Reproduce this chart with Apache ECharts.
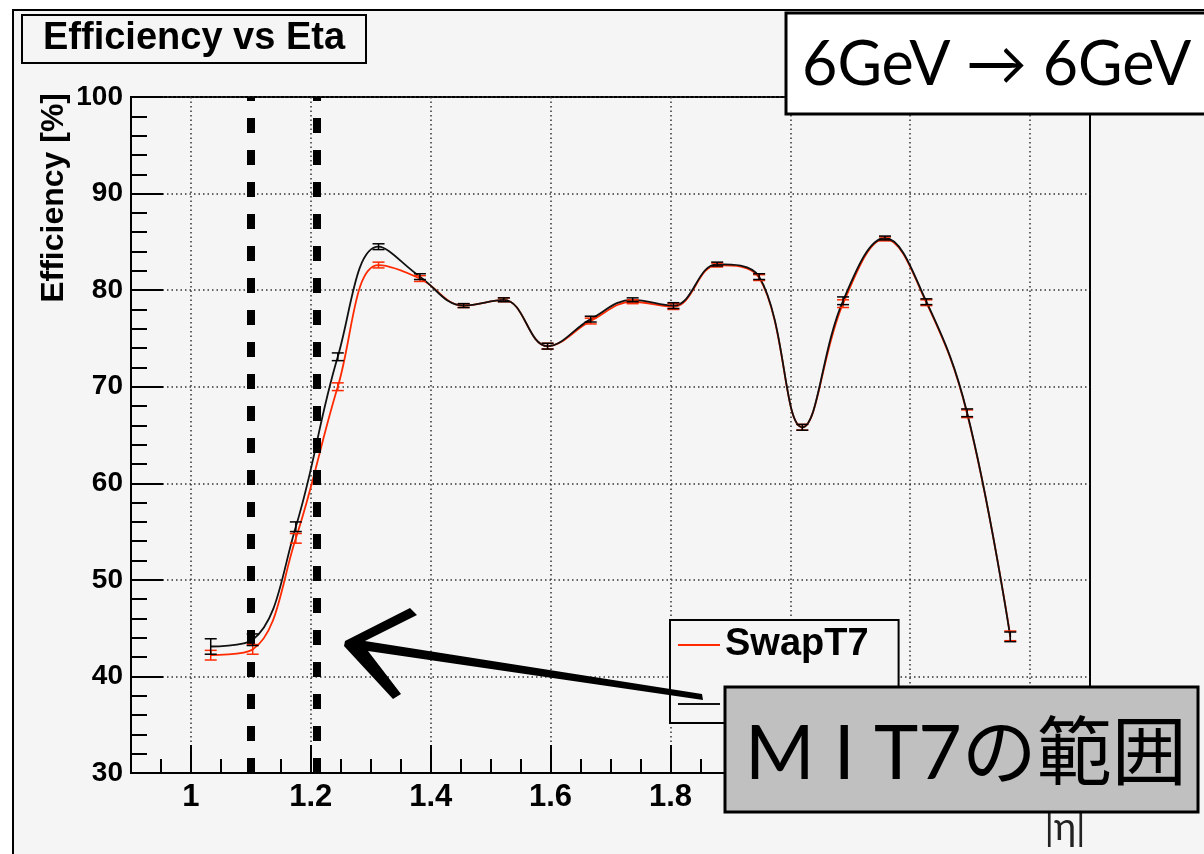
<!DOCTYPE html>
<html>
<head>
<meta charset="utf-8">
<title>Efficiency vs Eta</title>
<script src="https://cdn.jsdelivr.net/npm/echarts@6/dist/echarts.min.js"></script>
<style>
  html, body { margin: 0; padding: 0; background: #fff; }
  #chart { width: 1204px; height: 854px; }
</style>
</head>
<body>
<div id="chart"></div>
<script>
// |eta| bin centres
const etaBins = [1.033, 1.103, 1.175, 1.245, 1.313, 1.382, 1.455, 1.522, 1.595, 1.667,
                 1.737, 1.805, 1.878, 1.948, 2.020, 2.088, 2.158, 2.227, 2.295, 2.367]
// efficiency [%]
const swapT7 = [42.2, 42.8, 54.3, 70.0, 82.6, 81.2, 78.4, 79.0, 74.2, 76.8,
                78.8, 78.3, 82.6, 81.3, 65.8, 78.6, 85.3, 78.7, 67.2, 44.2]
const swapT7Err = [0.5, 0.5, 0.5, 0.4, 0.3, 0.3, 0.2, 0.2, 0.3, 0.3,
                   0.2, 0.3, 0.2, 0.3, 0.3, 0.4, 0.2, 0.3, 0.4, 0.5]
const normal = [43.1, 43.8, 55.5, 73.1, 84.5, 81.4, 78.4, 79.0, 74.2, 77.0,
                79.0, 78.4, 82.7, 81.4, 65.8, 78.9, 85.4, 78.8, 67.3, 44.1]
const normalErr = [0.8, 0.6, 0.5, 0.4, 0.3, 0.3, 0.2, 0.2, 0.3, 0.3,
                   0.2, 0.3, 0.2, 0.3, 0.3, 0.4, 0.2, 0.3, 0.4, 0.5]
// MIT7 range edges
const mitRange = [1.105, 1.21]
const xMajor = [1.0, 1.2, 1.4, 1.6, 1.8, 2.0, 2.2, 2.4]

const font = "'Liberation Sans', Arial, sans-serif"
const red = '#ff2a00'

const pairs = (ys) => etaBins.map((x, i) => [x, ys[i]])
const triples = (ys, es) => etaBins.map((x, i) => [x, ys[i], es[i]])

function errorBars (color) {
  return function (params, api) {
    const x = api.value(0)
    const y = api.value(1)
    const e = api.value(2)
    const hi = api.coord([x, y + e])
    const lo = api.coord([x, y - e])
    const w = 6
    const st = { stroke: color, lineWidth: 1.5 }
    return {
      type: 'group',
      children: [
        { type: 'line', shape: { x1: hi[0], y1: hi[1], x2: lo[0], y2: lo[1] }, style: st },
        { type: 'line', shape: { x1: hi[0] - w, y1: hi[1], x2: hi[0] + w, y2: hi[1] }, style: st },
        { type: 'line', shape: { x1: lo[0] - w, y1: lo[1], x2: lo[0] + w, y2: lo[1] }, style: st }
      ]
    }
  }
}

const dotted = { color: '#333', width: 1.5, type: [1.5, 3] }

const option = {
  animation: false,
  backgroundColor: '#fff',
  title: {
    text: 'Efficiency vs Eta',
    left: 22,
    top: 15,
    padding: [5, 21, 5, 21],
    backgroundColor: '#f5f5f5',
    borderColor: '#000',
    borderWidth: 2,
    textStyle: { fontFamily: font, fontSize: 38, fontWeight: 'bold', color: '#000' }
  },
  legend: {
    orient: 'vertical',
    left: 670,
    top: 620,
    padding: [6, 30, 0, 8],
    itemGap: 21,
    itemWidth: 42,
    itemHeight: 2,
    icon: 'rect',
    backgroundColor: '#f5f5f5',
    borderColor: '#000',
    borderWidth: 2,
    textStyle: { fontFamily: font, fontSize: 38, fontWeight: 'bold', color: '#000' },
    data: ['SwapT7', 'Normal']
  },
  grid: {
    left: 131,
    right: 114,
    top: 97,
    bottom: 81,
    show: true,
    backgroundColor: '#f5f5f5',
    borderColor: '#000',
    borderWidth: 2
  },
  xAxis: [
    {
      type: 'value',
      min: 0.9,
      max: 2.5,
      interval: 0.05,
      axisLine: { lineStyle: { color: '#000', width: 2 } },
      axisTick: { inside: true, length: 14, lineStyle: { color: '#000', width: 2 } },
      axisLabel: { show: false },
      splitLine: { show: false }
    },
    {
      type: 'value',
      min: 0.9,
      max: 2.5,
      position: 'bottom',
      axisLine: { lineStyle: { color: '#000', width: 2 } },
      axisTick: { inside: true, length: 28, customValues: xMajor, lineStyle: { color: '#000', width: 2 } },
      axisLabel: {
        customValues: xMajor,
        margin: 9,
        fontFamily: font,
        fontSize: 31,
        fontWeight: 'bold',
        color: '#000'
      },
      splitLine: { show: true, lineStyle: dotted }
    }
  ],
  yAxis: {
    type: 'value',
    min: 30,
    max: 100,
    interval: 10,
    axisLine: { lineStyle: { color: '#000', width: 2 } },
    axisTick: { inside: true, length: 32, lineStyle: { color: '#000', width: 2 } },
    minorTick: { show: true, splitNumber: 5, length: 16, lineStyle: { color: '#000', width: 2 } },
    axisLabel: { margin: 8, fontFamily: font, fontSize: 28, fontWeight: 'bold', color: '#000' },
    splitLine: { show: true, lineStyle: dotted }
  },
  series: [
    {
      name: 'SwapT7',
      type: 'line',
      smooth: 0.4,
      symbol: 'none',
      color: red,
      lineStyle: { color: red, width: 1.8 },
      data: pairs(swapT7),
      z: 3,
      markLine: {
        silent: true,
        symbol: 'none',
        label: { show: false },
        lineStyle: { color: '#000', width: 8, type: [15, 17] },
        data: mitRange.map(v => ({ xAxis: v }))
      }
    },
    {
      name: 'Normal',
      type: 'line',
      smooth: 0.4,
      symbol: 'none',
      color: '#111',
      lineStyle: { color: '#111', width: 1.8 },
      data: pairs(normal),
      z: 4
    },
    {
      type: 'custom',
      renderItem: errorBars(red),
      encode: { x: 0, y: 1 },
      data: triples(swapT7, swapT7Err),
      z: 5
    },
    {
      type: 'custom',
      renderItem: errorBars('#000'),
      encode: { x: 0, y: 1 },
      data: triples(normal, normalErr),
      z: 6
    }
  ],
  graphic: [
    {
      type: 'rect',
      z: -10,
      shape: { x: 13, y: 10, width: 1210, height: 860 },
      style: { fill: '#f5f5f5', stroke: '#000', lineWidth: 2 }
    },
    {
      type: 'text',
      x: 54,
      y: 93,
      rotation: Math.PI / 2,
      style: {
        text: 'Efficiency [%]',
        fill: '#000',
        font: 'bold 32px ' + font,
        align: 'right',
        verticalAlign: 'middle'
      }
    },
    {
      type: 'text',
      x: 1065,
      y: 828,
      style: {
        text: '|η|',
        fill: '#222',
        font: "38px Lato, 'DejaVu Sans', sans-serif",
        align: 'center',
        verticalAlign: 'middle'
      }
    },
    // hand-drawn arrow
    {
      type: 'polygon',
      z: 100,
      shape: {
        points: [[345, 641], [410, 608], [417, 615], [365, 641], [702, 694], [703, 700],
                 [368, 651], [401, 694], [393, 699], [344, 646]]
      },
      style: { fill: '#000' }
    },
    // energy box
    {
      type: 'rect',
      z: 100,
      shape: { x: 786, y: 13, width: 430, height: 101 },
      style: { fill: '#fff', stroke: '#000', lineWidth: 3 }
    },
    {
      type: 'text',
      z: 101,
      x: 802,
      y: 65,
      style: {
        text: '6GeV → 6GeV',
        fill: '#000',
        font: "61px Lato, 'Noto Sans', sans-serif",
        verticalAlign: 'middle'
      }
    },
    // range note
    {
      type: 'rect',
      z: 100,
      shape: { x: 725, y: 687, width: 473, height: 125 },
      style: { fill: '#c0c0c0', stroke: '#000', lineWidth: 3 }
    },
    {
      type: 'text',
      z: 101,
      x: 745,
      y: 755,
      style: {
        text: 'M I T7の範囲',
        fill: '#000',
        font: "75px Lato, 'Noto Sans CJK JP', sans-serif",
        verticalAlign: 'middle'
      }
    }
  ]
}

const chart = echarts.init(document.getElementById('chart'))
chart.setOption(option)
window.addEventListener('resize', () => chart.resize())
</script>
</body>
</html>
